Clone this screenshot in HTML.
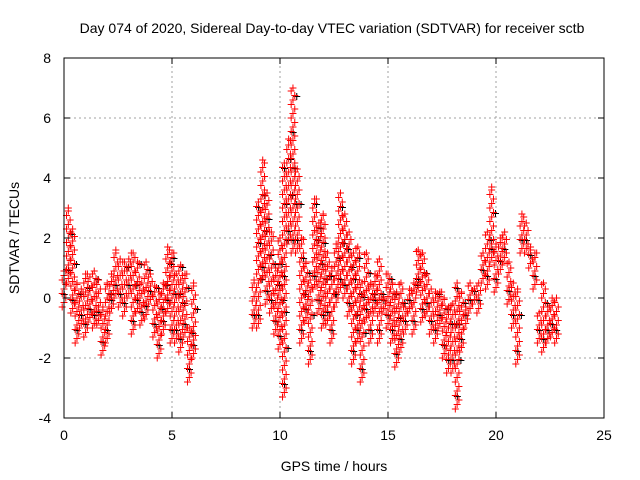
<!DOCTYPE html>
<html><head><meta charset="utf-8"><style>
html,body{margin:0;padding:0;background:#fff}
svg{display:block;font-family:"Liberation Sans",sans-serif}
</style></head><body>
<svg id="chart" width="640" height="480">
<text x="332" y="33" text-anchor="middle" font-size="14">Day 074 of 2020, Sidereal Day-to-day VTEC variation (SDTVAR) for receiver sctb</text>
<text x="0" y="0" transform="translate(19,238) rotate(-90)" text-anchor="middle" font-size="14">SDTVAR / TECUs</text>
<text x="334" y="471" text-anchor="middle" font-size="14">GPS time / hours</text>
<g id="grid"></g><g id="marks"></g><g id="axes"></g>
</svg>
<script>
const times = [0,0.2,0.4,0.6,0.8,1.0,1.2,1.4,1.6,1.8,2.0,2.2,2.4,2.6,2.8,3.0,3.2,3.4,3.6,3.8,4.0,4.2,4.4,4.6,4.8,5.0,5.2,5.4,5.6,5.8,6.0,
8.8,9.0,9.2,9.4,9.6,9.8,10.0,10.2,10.4,10.6,10.8,11.0,11.2,11.4,11.6,11.8,12.0,12.2,12.4,12.6,12.8,13.0,13.2,13.4,13.6,13.8,14.0,14.2,14.4,14.6,14.8,15.0,15.2,15.4,15.6,15.8,16.0,16.2,16.4,16.6,16.8,17.0,17.2,17.4,17.6,17.8,18.0,18.2,18.4,18.6,18.8,19.0,19.2,19.4,19.6,19.8,20.0,20.2,20.4,20.6,20.8,21.0,21.2,21.4,21.6,21.8,22.0,22.2,22.4,22.6,22.8];
const highs = [0.9,3.0,2.3,0.5,0.3,0.8,0.7,0.9,0.6,-0.3,0.5,0.8,1.6,1.3,1.2,1.3,1.5,1.2,0.5,1.2,0.8,0.4,0.2,0.5,1.7,1.5,0.8,1.1,0.8,-1.0,0.5,
0.6,3.2,4.6,3.5,2.2,1.0,2.0,4.5,5.3,7.0,4.3,2.0,1.2,0.6,3.3,2.5,2.8,1.5,1.0,1.8,3.5,2.8,2.2,1.5,1.7,0.5,1.5,0.5,0.8,1.3,0.0,0.8,0.5,0.2,0.5,-0.3,0.3,0.5,1.6,1.5,0.8,0.3,0.2,0.2,0.0,-0.3,-0.2,0.5,0.2,-0.3,0.5,0.3,0.5,1.5,2.2,3.7,1.8,2.0,2.2,1.2,0.5,0.3,2.8,2.5,1.7,1.5,-0.5,0.5,-0.3,0.0,0.0];
const lows = [-0.3,0.5,-0.5,-1.5,-1.0,-1.3,-0.8,-1.0,-0.9,-1.9,-1.5,-0.5,0.0,-0.3,-0.6,0.0,-1.2,-0.5,-0.9,-0.7,-0.2,-1.3,-2.0,-1.2,-0.5,-1.5,-1.5,-1.8,-1.3,-2.8,-2.0,
-1.0,-1.0,0.6,-0.2,-0.5,-1.2,-1.7,-3.3,1.8,1.5,1.5,-1.5,-0.8,-2.2,0.3,-0.5,-1.0,-0.9,-1.5,-0.3,0.2,0.0,-0.6,-2.2,-1.5,-2.8,-0.8,-1.5,-0.5,-1.5,-0.5,-1.0,-1.5,-2.3,-1.8,-1.2,-0.5,-1.2,0.2,-0.8,-0.6,-1.2,-1.5,-1.0,-2.0,-2.5,-2.5,-3.7,-1.8,-1.0,-0.5,-0.2,-0.5,0.5,0.3,1.2,0.2,0.8,1.2,-0.2,-1.0,-2.2,1.5,1.5,1.0,0.3,-1.5,-1.8,-1.5,-1.3,-1.5];
const xTicks = [0,5,10,15,20,25];
const yTicks = [-4,-2,0,2,4,6,8];
const X0=64,X1=604,Y0=418,Y1=58,XMAX=25,YMIN=-4,YMAX=8;
const xs = v => X0 + (v/XMAX)*(X1-X0);
const ys = v => Y0 - (v-YMIN)/(YMAX-YMIN)*(Y0-Y1);
const NS='http://www.w3.org/2000/svg';
function mk(tag, attrs, parent){const e=document.createElementNS(NS,tag);for(const k in attrs)e.setAttribute(k,attrs[k]);parent.appendChild(e);return e;}
const grid=document.getElementById('grid'), marks=document.getElementById('marks'), axes=document.getElementById('axes');
xTicks.forEach(t=>{
  const x=xs(t);
  if(t>0&&t<XMAX){const g=mk('line',{x1:x,x2:x,y1:Y0,y2:Y1,stroke:'#a0a0a0','stroke-dasharray':'2,3'},grid);
  
  }
  mk('line',{x1:x,x2:x,y1:Y0,y2:Y0-6,stroke:'#000'},axes);
  mk('line',{x1:x,x2:x,y1:Y1,y2:Y1+6,stroke:'#000'},axes);
  const l=mk('text',{x:x,y:Y0+22,'text-anchor':'middle','font-size':'14'},axes);l.textContent=t;
  
  
});
yTicks.forEach(t=>{
  const y=ys(t);
  if(t>YMIN&&t<YMAX){const g=mk('line',{x1:X0,x2:X1,y1:y,y2:y,stroke:'#a0a0a0','stroke-dasharray':'2,3'},grid);
  
  }
  mk('line',{x1:X0,x2:X0+6,y1:y,y2:y,stroke:'#000'},axes);
  mk('line',{x1:X1,x2:X1-6,y1:y,y2:y,stroke:'#000'},axes);
  const l=mk('text',{x:X0-13,y:y+5,'text-anchor':'end','font-size':'14'},axes);l.textContent=t;
  
  
});
const border=mk('rect',{x:X0,y:Y1,width:X1-X0,height:Y0-Y1,fill:'none',stroke:'#000'},axes);


let dBlack='', dRed='';
function plus(x,y){return `M${x-3.5},${y}h7M${x},${y-3.5}v7`;}
times.forEach((t,i)=>{
  const lo=lows[i], hi=highs[i];
  let k=0;
  for(let v=lo; v<=hi+1e-9; v+=0.15, k++){
    const x=xs(t)+((k%3)-1)*1.8, y=ys(v);
    if(k%8===3) dBlack+=plus(x+2,y+1);
    dRed+=plus(x,y);
  }
  dRed+=plus(xs(t),ys(hi));
});
const pb=mk('path',{d:dBlack,stroke:'#000','stroke-width':1,fill:'none'},marks);


const pr=mk('path',{d:dRed,stroke:'#ff0000','stroke-width':1,fill:'none'},marks);


</script>
</body></html>
